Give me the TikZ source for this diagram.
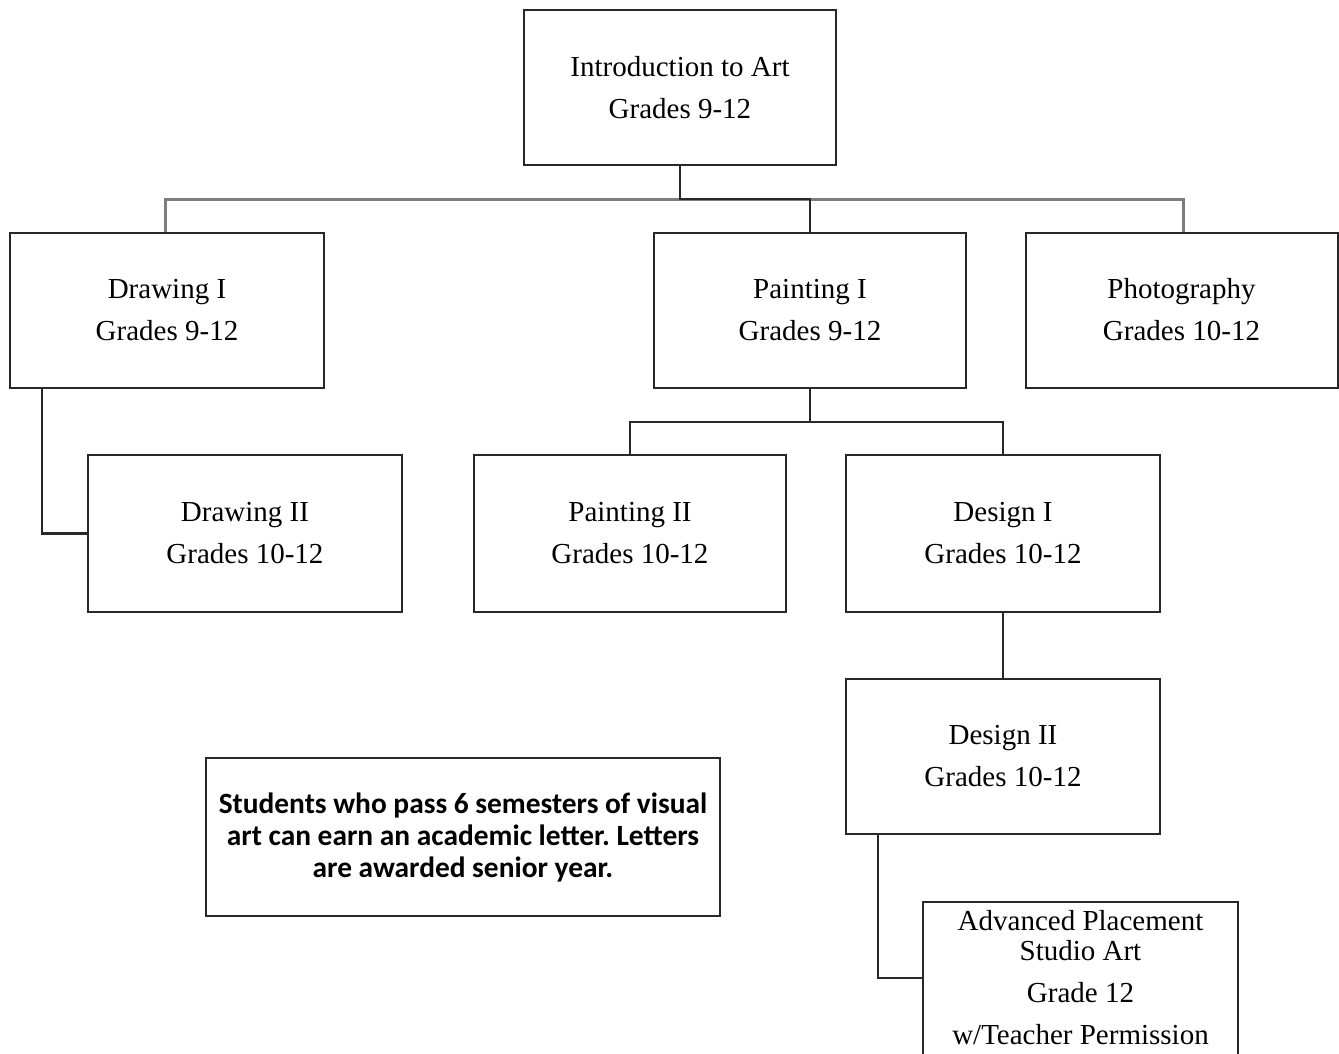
\documentclass[tikz,border=0pt]{standalone}
\usepackage{fontspec}
\setmainfont{Liberation Serif}
\newfontfamily\notefont{Carlito}
\definecolor{boxline}{RGB}{40,40,40}
\definecolor{grayline}{RGB}{125,125,125}
\frenchspacing
\begin{document}
\begin{tikzpicture}[x=1pt,y=-1pt,
  course/.style={draw=boxline, line width=2pt, fill=white, inner sep=0pt,
    minimum width=312pt, minimum height=155pt, align=center,
    font=\fontsize{29}{42}\selectfont},
  notebox/.style={draw=boxline, line width=2pt, fill=white, inner sep=0pt,
    minimum width=514pt, minimum height=158pt, align=center,
    font=\notefont\bfseries\fontsize{29.4}{32}\selectfont},
  link/.style={draw=boxline, line width=2.2pt},
  glink/.style={draw=grayline, line width=3pt}]
\useasboundingbox (0,0) rectangle (1339,1053);
\clip (0,0) rectangle (1339,1053);
% connectors (gray) drawn first
\coordinate (hr) at (1183,199);
\draw[glink] (165,232) |- (hr) -- (1183,232);
% nodes
\node[course] (intro) at (680,87.5) {Introduction to Art\\Grades 9-12};
\node[course, minimum width=314pt] (draw1) at (167,310) {Drawing I\\Grades 9-12};
\node[course] (paint1) at (810,310) {Painting I\\Grades 9-12};
\node[course] (photo) at (1181.5,310) {Photography\\Grades 10-12};
\node[course, minimum width=314pt, minimum height=157pt] (draw2) at (245,533.5) {Drawing II\\Grades 10-12};
\node[course, minimum height=157pt] (paint2) at (630,533.5) {Painting II\\Grades 10-12};
\node[course, minimum width=314pt, minimum height=157pt] (des1) at (1003,533.5) {Design I\\Grades 10-12};
\node[course, minimum width=314pt] (des2) at (1003,756.5) {Design II\\Grades 10-12};
\node[course, minimum width=315pt, minimum height=180pt, anchor=north] (ap) at (1080.5,901) {};
\node[anchor=north, inner sep=0pt, align=center, font=\fontsize{29}{42}\selectfont] (aptext) at (1080.5,910)
  {Advanced Placement\\[-12pt]Studio Art\\Grade 12\\w/Teacher Permission};
\node[notebox] (note) at (463,837) {Students who pass 6 semesters of visual\\art can earn an academic letter. Letters\\are awarded senior year.};
% dark connectors
\draw[link] (intro.south) -- (680,199) -| (paint1.north);
\draw[link] (draw1.south -| 42,0) |- (draw2.west);
\draw[link] (paint1.south) -- (810,422) -| (paint2.north);
\draw[link] (810,422) -| (des1.north);
\draw[link] (des1.south) -- (des2.north);
\draw[link] (des2.south -| 878,0) |- (ap.west |- 0,978);
\end{tikzpicture}
\end{document}
